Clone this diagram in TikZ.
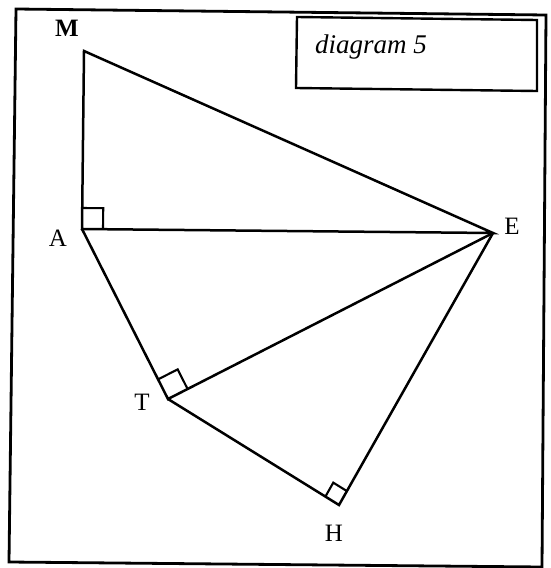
\documentclass[tikz,border=0pt]{standalone}
\usepackage{fontspec}
\setmainfont{Liberation Serif}
\usetikzlibrary{calc}
\begin{document}
\begin{tikzpicture}[x=1pt,y=-1pt,
  edge/.style={line width=2.5pt,line join=miter},
  frame/.style={line width=2.8pt,line join=miter},
  ra/.style={line width=2.1pt,line join=miter},
  lbl/.style={font=\fontsize{25}{27}\selectfont,inner sep=0pt}]
\useasboundingbox (0,0) rectangle (551,568);
% outer frame (slightly rotated, as scanned)
\coordinate (F1) at (16,9);
\coordinate (F2) at (546,15);
\coordinate (F3) at (542,567);
\coordinate (F4) at (9,562);
\draw[frame] (F1) -- (F2) -- (F3) -- (F4) -- cycle;
% title box
\coordinate (B1) at (297,17);
\coordinate (B2) at (537,20);
\coordinate (B3) at (537,91);
\coordinate (B4) at (296,88);
\draw[frame,line width=2.4pt] (B1) -- (B2) -- (B3) -- (B4) -- cycle;
\node[anchor=base west,inner sep=0pt,font=\fontsize{27}{29}\selectfont\itshape] (title) at (315,53) {diagram 5};
% points
\coordinate (M) at (84,51);
\coordinate (A) at (82,229);
\coordinate (E) at (493,233);
\coordinate (T) at (168,399);
\coordinate (H) at (339,505);
% segments
\draw[edge] (M) -- (A) -- (E) -- cycle;
\draw[edge] (A) -- (T) -- (E);
\draw[edge] (T) -- (H) -- (E);
% right-angle marks
\coordinate (a1) at ($(A)!21pt!(M)$);
\coordinate (a2) at ($(A)!21pt!(E)$);
\draw[ra] (a1) -- ($(a1)+(a2)-(A)$) -- (a2);
\coordinate (t1) at ($(T)!22pt!(A)$);
\coordinate (t2) at ($(T)!22pt!(E)$);
\draw[ra] (t1) -- ($(t1)+(t2)-(T)$) -- (t2);
\coordinate (h1) at ($(H)!16pt!(T)$);
\coordinate (h2) at ($(H)!16pt!(E)$);
\draw[ra] (h1) -- ($(h1)+(h2)-(H)$) -- (h2);
% labels
\node[lbl,font=\fontsize{25}{27}\selectfont\bfseries] (lM) at (67,28) {M};
\node[lbl] (lE) at (512,226) {E};
\node[lbl] (lA) at (58,238) {A};
\node[lbl] (lT) at (142,402) {T};
\node[lbl] (lH) at (334,533) {H};
\end{tikzpicture}
\end{document}
